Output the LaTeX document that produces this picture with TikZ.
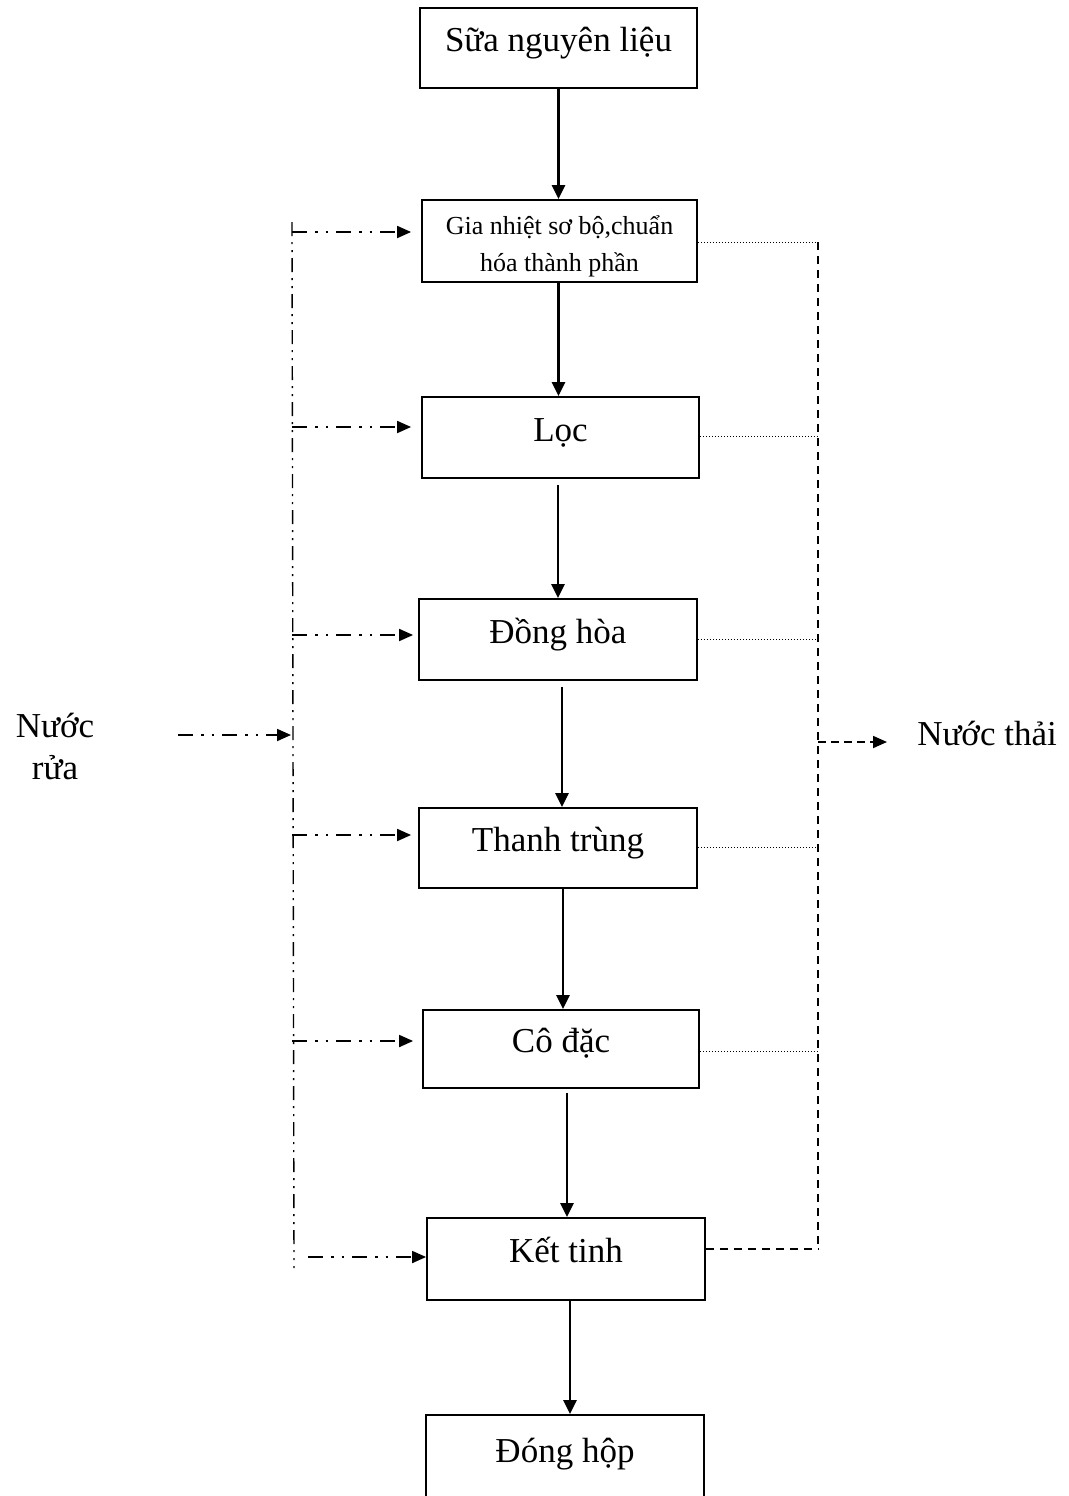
\documentclass[tikz,border=0pt]{standalone}
\usepackage{fontspec}
\setmainfont{Liberation Serif}
\usetikzlibrary{arrows.meta}
\begin{document}
\begin{tikzpicture}[x=1pt,y=-1pt,
  boxbase/.style={draw, line width=1.8pt, minimum width=277pt, minimum height=80pt, inner sep=0pt,
    font=\fontsize{35}{42}\selectfont, align=center},
  box/.style={boxbase, text height=24pt, text depth=17pt},
  flow/.style={line width=2.4pt, -{Triangle[length=14pt,width=13pt]}},
  wash/.style={line width=1.8pt, dash pattern=on 15pt off 8pt on 2.5pt off 8pt on 2.5pt off 8pt,
    -{Triangle[length=14pt,width=12pt]}},
  washline/.style={line width=1.4pt, dash pattern=on 14pt off 6pt on 2pt off 6pt on 2pt off 6pt},
  waste/.style={line width=0.9pt, dash pattern=on 1.5pt off 1.5pt},
  wasteline/.style={line width=1.8pt, dash pattern=on 8pt off 6pt},
  wasteout/.style={line width=1.8pt, dash pattern=on 8pt off 5pt, -{Triangle[length=14pt,width=12pt]}},
  lbl/.style={font=\fontsize{35}{42}\selectfont, inner sep=0pt}]
\useasboundingbox (0,0) rectangle (1068,1496);
\clip (0,0) rectangle (1068,1496);

% process boxes
\node[box, minimum width=277pt, minimum height=80pt] (b1) at (558.5,48) {Sữa nguyên liệu};
\node[boxbase, minimum width=275pt, minimum height=82pt, font=\fontsize{26}{37}\selectfont,
  text height=66pt] (b2) at (559.5,241) {Gia nhiệt sơ bộ,chuẩn\\hóa thành phần};
\node[box, minimum width=277pt, minimum height=81pt] (b3) at (560.5,437.5) {Lọc};
\node[box, minimum width=278pt, minimum height=81pt] (b4) at (558,639.5) {Đồng hòa};
\node[box, minimum width=278pt, minimum height=80pt] (b5) at (558,848) {Thanh trùng};
\node[box, minimum width=276pt, minimum height=78pt] (b6) at (561,1049) {Cô đặc};
\node[box, minimum width=278pt, minimum height=82pt] (b7) at (566,1259) {Kết tinh};
\node[boxbase, minimum width=278pt, minimum height=110pt, text height=24pt, text depth=40pt] (b8) at (565,1470) {Đóng hộp};

% main flow
\draw[flow] (b1.south) -- (b1.south |- b2.north);
\draw[flow] ([xshift=-1pt]b2.south) -- ([xshift=-1pt]b2.south |- b3.north);
\draw[flow, shorten <=6pt] ([xshift=-2.5pt]b3.south) -- ([xshift=-2.5pt]b3.south |- b4.north);
\draw[flow, shorten <=6pt] ([xshift=4pt]b4.south) -- ([xshift=4pt]b4.south |- b5.north);
\draw[flow] ([xshift=5pt]b5.south) -- ([xshift=5pt]b5.south |- b6.north);
\draw[flow, shorten <=4pt] ([xshift=6pt]b6.south) -- ([xshift=6pt]b6.south |- b7.north);
\draw[flow] ([xshift=4pt]b7.south) -- ([xshift=4pt]b7.south |- b8.north);

% washing water (left)
\node[lbl] (nr1) at (55,725) {Nước};
\node[lbl] (nr2) at (55,768) {rửa};
\coordinate (lt) at (292,222);
\coordinate (lb) at (294,1268);
\draw[washline] (lt) -- (lb);
\coordinate (in0) at (178,735);
\coordinate (in1) at (291,735);
\draw[wash] (in0) -- (in1);

\coordinate (w2) at (292,232);
\coordinate (w3) at (292,427);
\coordinate (w4) at (292,635);
\coordinate (w5) at (292,835);
\coordinate (w6) at (292,1041);
\coordinate (w7) at (308,1257);
\draw[wash, shorten >=10pt] (w2) -- (w2 -| b2.west);
\draw[wash, shorten >=10pt] (w3) -- (w3 -| b3.west);
\draw[wash, shorten >=5pt] (w4) -- (w4 -| b4.west);
\draw[wash, shorten >=7pt] (w5) -- (w5 -| b5.west);
\draw[wash, shorten >=9pt] (w6) -- (w6 -| b6.west);
\draw[wash] (w7) -- (w7 -| b7.west);

% waste water (right)
\coordinate (r2) at (818,242);
\coordinate (r3) at (818,436);
\coordinate (r4) at (818,639);
\coordinate (r5) at (818,847);
\coordinate (r6) at (818,1051);
\coordinate (r7) at (818,1249);
\draw[wasteline] (r2) -- (r7);
\draw[waste] (b2.east |- r2) -- (r2);
\draw[waste] (b3.east |- r3) -- (r3);
\draw[waste] (b4.east |- r4) -- (r4);
\draw[waste] (b5.east |- r5) -- (r5);
\draw[waste] (b6.east |- r6) -- (r6);
\draw[wasteline] (b7.east |- r7) -- (r7);

\node[lbl] (nt) at (987,733) {Nước thải};
\coordinate (o0) at (818,742);
\coordinate (o1) at (887,742);
\draw[wasteout] (o0) -- (o1);
\end{tikzpicture}
\end{document}
